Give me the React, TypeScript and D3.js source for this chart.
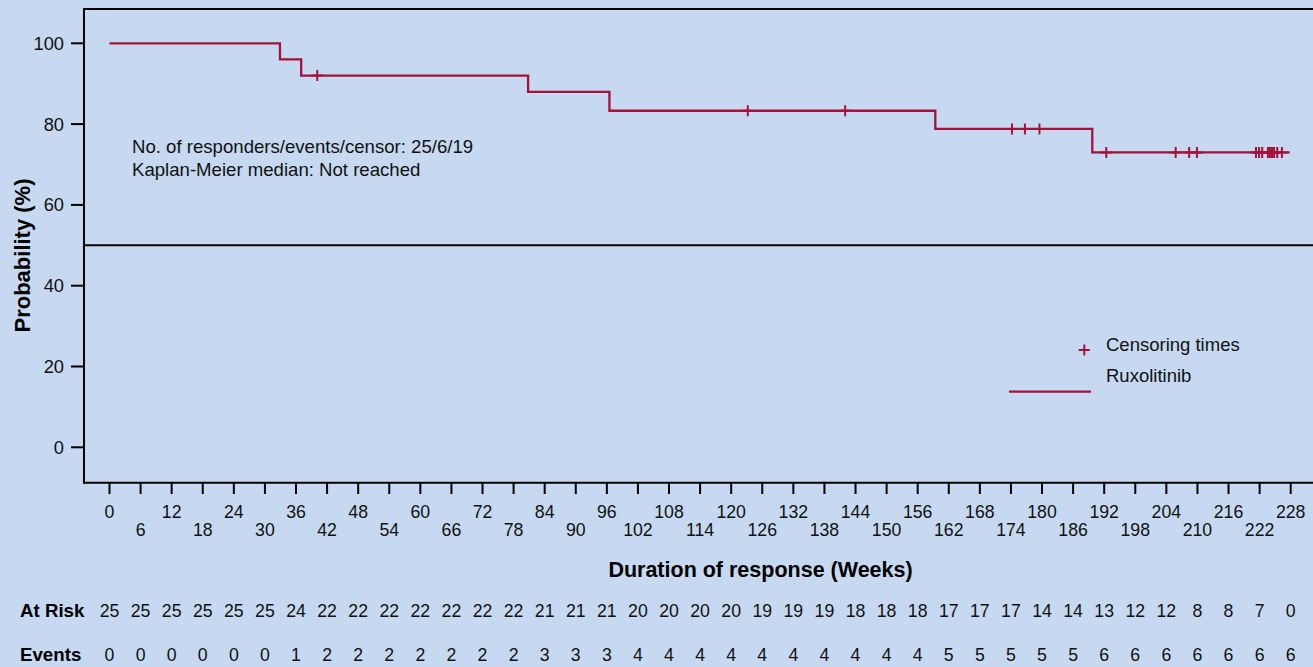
import React from "react";
import * as d3 from "d3";

// Kaplan-Meier curve for duration of response (weeks)
const stepTimes = [0, 32.9, 37.0, 80.8, 96.5, 159.4, 189.7];
const stepSurvival = [100, 96, 92, 88, 83.3, 78.8, 73];
const lastFollowUp = 227.8;

const censorTimes = [
  40.1, 123.2, 142.0, 174.2, 176.7, 179.5, 192.4, 205.8, 208.4, 209.9,
  221.3, 221.9, 222.5, 223.6, 224.0, 224.4, 224.8, 225.4, 226.3,
];

const xTicks = d3.range(0, 229, 6);
const yTicks = [0, 20, 40, 60, 80, 100];

const atRisk = [
  25, 25, 25, 25, 25, 25, 24, 22, 22, 22, 22, 22, 22, 22, 21, 21, 21, 20, 20, 20,
  20, 19, 19, 19, 18, 18, 18, 17, 17, 17, 14, 14, 13, 12, 12, 8, 8, 7, 0,
];
const events = [
  0, 0, 0, 0, 0, 0, 1, 2, 2, 2, 2, 2, 2, 2, 3, 3, 3, 4, 4, 4,
  4, 4, 4, 4, 4, 4, 4, 5, 5, 5, 5, 5, 6, 6, 6, 6, 6, 6, 6,
];

const summaryLines = [
  "No. of responders/events/censor: 25/6/19",
  "Kaplan-Meier median: Not reached",
];

const W = 1313;
const H = 667;
const BG = "#C6D9F0";
const CURVE = "#A4123A";
const FONT = "'Liberation Sans', Arial, Helvetica, sans-serif";

export default function App() {
  const x = d3.scaleLinear().domain([0, 228]).range([109.5, 1290.7]);
  const y = d3.scaleLinear().domain([0, 100]).range([447.3, 43.3]);

  const frameLeft = 84;
  const frameTop = 9;
  const axisY = 482.7;

  const pts: [number, number][] = stepTimes.map((t, i) => [t, stepSurvival[i]]);
  pts.push([lastFollowUp, stepSurvival[stepSurvival.length - 1]]);
  const line = d3
    .line<[number, number]>()
    .x((d) => x(d[0]))
    .y((d) => y(d[1]))
    .curve(d3.curveStepAfter);

  const survivalAt = (t: number) => {
    let s = stepSurvival[0];
    stepTimes.forEach((st, i) => {
      if (t >= st) s = stepSurvival[i];
    });
    return s;
  };

  const plus = (cx: number, cy: number, hw: number, hh: number) =>
    `M${cx - hw},${cy}H${cx + hw}M${cx},${cy - hh}V${cy + hh}`;

  return (
    <svg
      width={W}
      height={H}
      style={{ position: "fixed", left: 0, top: 0, display: "block" }}
      fontFamily={FONT}
    >
      <rect x={0} y={0} width={W} height={H} fill={BG} />

      {/* frame */}
      <line x1={frameLeft} x2={W} y1={frameTop} y2={frameTop} stroke="#000" strokeWidth={2} />
      <line x1={frameLeft} x2={frameLeft} y1={frameTop - 1} y2={axisY + 1} stroke="#000" strokeWidth={2} />
      <line x1={frameLeft - 1} x2={W} y1={axisY} y2={axisY} stroke="#000" strokeWidth={2} />
      {/* median reference at 50% */}
      <line x1={frameLeft} x2={W} y1={y(50)} y2={y(50)} stroke="#000" strokeWidth={2} />

      {/* y axis */}
      {yTicks.map((t) => (
        <g key={`y${t}`}>
          <line x1={71} x2={frameLeft} y1={y(t)} y2={y(t)} stroke="#000" strokeWidth={2} />
          <text x={64} y={y(t) + 6.4} textAnchor="end" fontSize={18.3} fill="#111">
            {t}
          </text>
        </g>
      ))}
      <text
        transform={`translate(29.5,255.5) rotate(-90)`}
        textAnchor="middle"
        fontSize={22}
        fontWeight="bold"
        fill="#000"
      >
        Probability (%)
      </text>

      {/* x axis */}
      {xTicks.map((t, i) => (
        <g key={`x${t}`}>
          <line x1={x(t)} x2={x(t)} y1={axisY} y2={494} stroke="#000" strokeWidth={2} />
          <text
            x={x(t)}
            y={i % 2 === 0 ? 517.5 : 535.5}
            textAnchor="middle"
            fontSize={17.7}
            fill="#111"
          >
            {t}
          </text>
        </g>
      ))}
      <text x={760.5} y={577} textAnchor="middle" fontSize={21.5} fontWeight="bold" fill="#000">
        Duration of response (Weeks)
      </text>

      {/* survival curve */}
      <path d={line(pts) ?? ""} fill="none" stroke={CURVE} strokeWidth={2.3} />
      {censorTimes.map((t, i) => (
        <path
          key={`c${i}`}
          d={plus(x(t), y(survivalAt(t)), 6, 5.5)}
          stroke={CURVE}
          strokeWidth={2}
          fill="none"
        />
      ))}

      {/* summary */}
      {summaryLines.map((s, i) => (
        <text key={s} x={132} y={153.3} dy={i * 22.5} fontSize={18.6} fill="#111">
          {s}
        </text>
      ))}

      {/* legend */}
      <path d={plus(1084.3, 350, 5.5, 5.5)} stroke={CURVE} strokeWidth={2} fill="none" />
      <text x={1106} y={351} fontSize={18.5} fill="#111">
        Censoring times
      </text>
      <line x1={1009} x2={1091} y1={391.7} y2={391.7} stroke={CURVE} strokeWidth={2.3} />
      <text x={1106} y={381.5} fontSize={18.5} fill="#111">
        Ruxolitinib
      </text>

      {/* number at risk table */}
      <text x={20} y={616.5} fontSize={18.7} fontWeight="bold" fill="#000">
        At Risk
      </text>
      <text x={20} y={660.5} fontSize={18.7} fontWeight="bold" fill="#000">
        Events
      </text>
      {atRisk.map((v, i) => (
        <text key={`r${i}`} x={x(xTicks[i])} y={616.5} textAnchor="middle" fontSize={17.7} fill="#111">
          {v}
        </text>
      ))}
      {events.map((v, i) => (
        <text key={`e${i}`} x={x(xTicks[i])} y={660.5} textAnchor="middle" fontSize={17.7} fill="#111">
          {v}
        </text>
      ))}
    </svg>
  );
}
